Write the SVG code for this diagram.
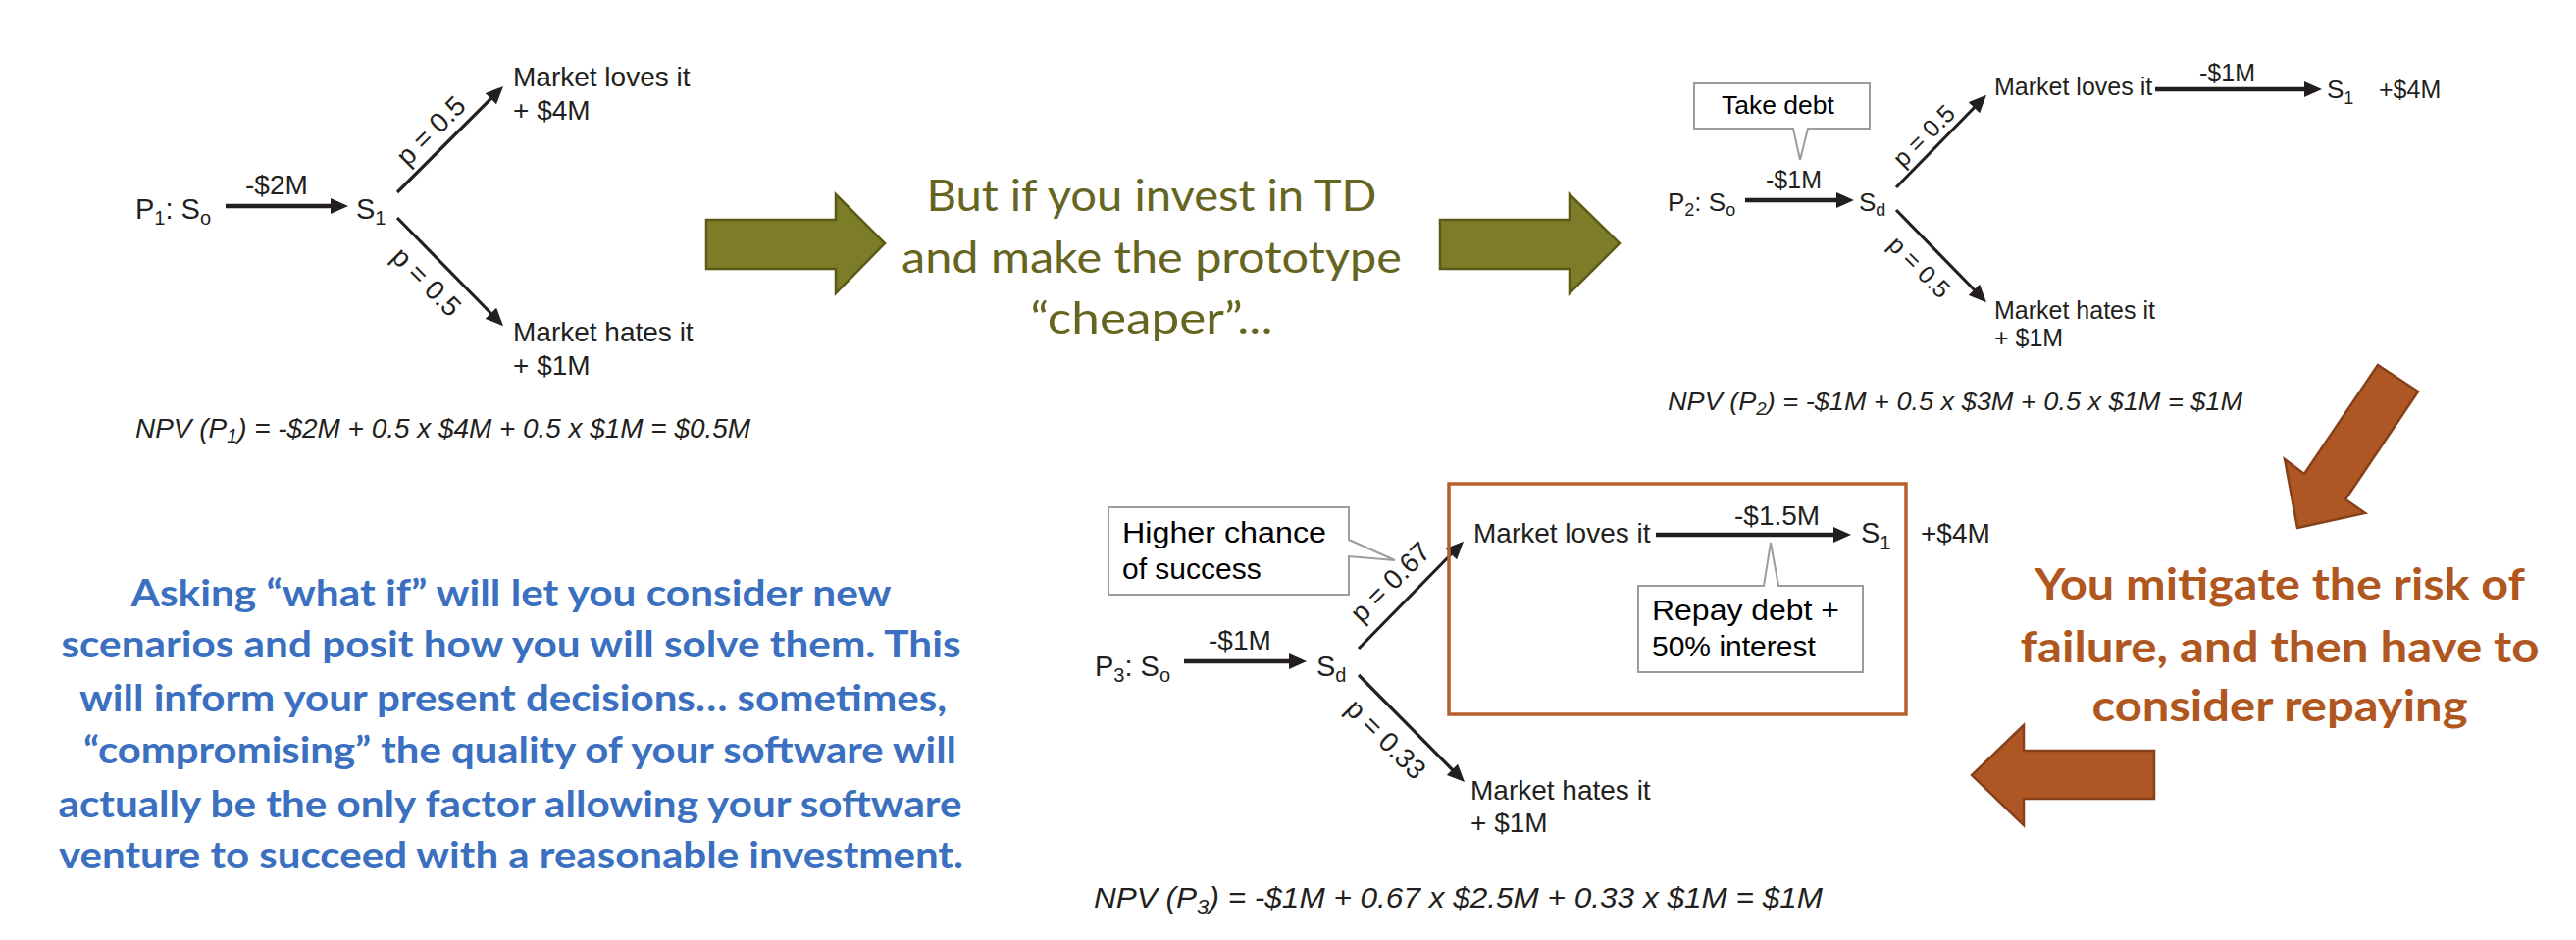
<svg xmlns="http://www.w3.org/2000/svg" width="2626" height="958" viewBox="0 0 2626 958">
<style>
.t{font-family:"Liberation Sans",Arial,Helvetica,sans-serif;fill:#231f20}
.it{font-style:italic}
.co{font-family:"Liberation Sans",Arial,Helvetica,sans-serif;fill:#000}
.ln{stroke:#231f20;fill:none;marker-end:url(#ah)}
.h{stroke-width:4.5}
.d{stroke-width:3.2}
.callout{fill:#fff;stroke:#9c9c9c;stroke-width:2}
.green{font-family:Lato,"Open Sans",sans-serif;fill:#66651f;font-size:45px;text-anchor:middle}
.blue{font-family:Lato,"Open Sans",sans-serif;font-weight:bold;fill:#3a70bf;font-size:38px;text-anchor:middle}
.brown{font-family:Lato,"Open Sans",sans-serif;font-weight:bold;fill:#b0561f;font-size:44px;text-anchor:middle}
.garrow{fill:#7d7c28;stroke:#5b5a17;stroke-width:2.5}
.barrow{fill:#ae5624;stroke:#86401a;stroke-width:2.5}
</style>
<defs>
<marker id="ah" markerUnits="userSpaceOnUse" markerWidth="18" markerHeight="16" refX="8" refY="8" orient="auto">
<path d="M0,0 L18,8 L0,16 Z" fill="#231f20"/>
</marker>
</defs>
<rect width="2626" height="958" fill="#fff"/>

<g id="connectors">
<line class="ln h" x1="230" y1="210" x2="345" y2="210"/>
<line class="ln d" x1="405" y1="196" x2="506" y2="95"/>
<line class="ln d" x1="405" y1="222" x2="506" y2="325"/>
<line class="ln h" x1="1779" y1="204" x2="1880" y2="204"/>
<line class="ln d" x1="1933" y1="191" x2="2018" y2="104"/>
<line class="ln d" x1="1933" y1="214" x2="2018" y2="301"/>
<line class="ln h" x1="2197" y1="91" x2="2357" y2="91"/>
<line class="ln h" x1="1207" y1="674" x2="1322" y2="674"/>
<line class="ln d" x1="1385" y1="661" x2="1485" y2="559"/>
<line class="ln d" x1="1385" y1="688" x2="1486" y2="790"/>
<line class="ln h" x1="1688" y1="545" x2="1877" y2="545"/>
</g>

<g id="diagram1">
<text class="t" x="138" y="223" font-size="29">P<tspan font-size="20" dy="6">1</tspan><tspan dy="-6">: S</tspan><tspan font-size="20" dy="6">o</tspan></text>
<text class="t" x="250" y="198" font-size="28">-$2M</text>
<text class="t" x="363" y="223" font-size="29">S<tspan font-size="20" dy="6">1</tspan></text>
<text class="t" font-size="28" text-anchor="middle" transform="translate(439,133) rotate(-45)" y="10">p = 0.5</text>
<text class="t" font-size="28" text-anchor="middle" transform="translate(435,287) rotate(45)" y="10">p = 0.5</text>
<text class="t" x="523" y="88" font-size="28">Market loves it</text>
<text class="t" x="523" y="122" font-size="28">+ $4M</text>
<text class="t" x="523" y="348" font-size="28">Market hates it</text>
<text class="t" x="523" y="382" font-size="28">+ $1M</text>
<text class="t it" x="138" y="446" font-size="28" textLength="627" lengthAdjust="spacingAndGlyphs">NPV (P<tspan font-size="20" dy="5">1</tspan><tspan dy="-5">) = -$2M + 0.5 x $4M + 0.5 x $1M = $0.5M</tspan></text>
</g>

<g id="arrow-green-1"><polygon class="garrow" points="720,224 852,224 852,198 902,248 852,299 852,274 720,274"/></g>
<g id="text-green">
<text class="green" x="1174" y="215" textLength="459" lengthAdjust="spacingAndGlyphs">But if you invest in TD</text>
<text class="green" x="1174" y="278" textLength="510" lengthAdjust="spacingAndGlyphs">and make the prototype</text>
<text class="green" x="1174" y="340" textLength="247" lengthAdjust="spacingAndGlyphs">“cheaper”...</text>
</g>
<g id="arrow-green-2"><polygon class="garrow" points="1468,224 1600,224 1600,198 1651,248 1600,299 1600,274 1468,274"/></g>

<g id="diagram2">
<path class="callout" d="M1727,85 H1906 V131 H1843 L1835,163 L1828,131 H1727 Z"/>
<text class="co" x="1755" y="116" font-size="26.5">Take debt</text>
<text class="t" x="1700" y="215" font-size="26">P<tspan font-size="18" dy="5">2</tspan><tspan dy="-5">: S</tspan><tspan font-size="18" dy="5">o</tspan></text>
<text class="t" x="1800" y="192" font-size="25">-$1M</text>
<text class="t" x="1895" y="215" font-size="26">S<tspan font-size="18" dy="5">d</tspan></text>
<text class="t" font-size="25" text-anchor="middle" transform="translate(1961,138) rotate(-45)" y="9">p = 0.5</text>
<text class="t" font-size="25" text-anchor="middle" transform="translate(1957,272) rotate(45)" y="9">p = 0.5</text>
<text class="t" x="2033" y="97" font-size="25">Market loves it</text>
<text class="t" x="2242" y="83" font-size="25">-$1M</text>
<text class="t" x="2372" y="100" font-size="26">S<tspan font-size="18" dy="6">1</tspan></text>
<text class="t" x="2425" y="100" font-size="25">+$4M</text>
<text class="t" x="2033" y="325" font-size="25">Market hates it</text>
<text class="t" x="2033" y="353" font-size="25">+ $1M</text>
<text class="t it" x="1700" y="418" font-size="26" textLength="586" lengthAdjust="spacingAndGlyphs">NPV (P<tspan font-size="18" dy="5">2</tspan><tspan dy="-5">) = -$1M + 0.5 x $3M + 0.5 x $1M = $1M</tspan></text>
</g>

<g id="arrow-brown-diag"><polygon class="barrow" points="2424,372 2465,399 2391,509 2411,523 2342,538 2329,468 2349,483"/></g>
<g id="text-brown">
<text class="brown" x="2324" y="611" textLength="500" lengthAdjust="spacingAndGlyphs">You mitigate the risk of</text>
<text class="brown" x="2324" y="675" textLength="529" lengthAdjust="spacingAndGlyphs">failure, and then have to</text>
<text class="brown" x="2324" y="735" textLength="383" lengthAdjust="spacingAndGlyphs">consider repaying</text>
</g>
<g id="arrow-brown-left"><polygon class="barrow" points="2196,765 2063,765 2063,739 2010,790 2063,841 2063,814 2196,814"/></g>

<g id="diagram3">
<rect x="1477" y="493" width="466" height="235" fill="none" stroke="#b65f2c" stroke-width="3.5"/>
<path class="callout" d="M1130,517 H1375 V550 L1422,571 L1375,567 V606 H1130 Z"/>
<text class="co" x="1144" y="553" font-size="30" textLength="208" lengthAdjust="spacingAndGlyphs">Higher chance</text>
<text class="co" x="1144" y="590" font-size="30">of success</text>
<text class="t" x="1116" y="689" font-size="29">P<tspan font-size="20" dy="6">3</tspan><tspan dy="-6">: S</tspan><tspan font-size="20" dy="6">o</tspan></text>
<text class="t" x="1232" y="662" font-size="28">-$1M</text>
<text class="t" x="1342" y="689" font-size="29">S<tspan font-size="20" dy="6">d</tspan></text>
<text class="t" font-size="28" text-anchor="middle" transform="translate(1417,593) rotate(-45)" y="10">p = 0.67</text>
<text class="t" font-size="28" text-anchor="middle" transform="translate(1413,753) rotate(45)" y="10">p = 0.33</text>
<text class="t" x="1502" y="553" font-size="28">Market loves it</text>
<text class="t" x="1768" y="535" font-size="28">-$1.5M</text>
<text class="t" x="1897" y="553" font-size="29">S<tspan font-size="20" dy="7">1</tspan></text>
<text class="t" x="1958" y="553" font-size="28">+$4M</text>
<path class="callout" d="M1670,597 H1798 L1805,553 L1813,597 H1899 V685 H1670 Z"/>
<text class="co" x="1684" y="632" font-size="30" textLength="191" lengthAdjust="spacingAndGlyphs">Repay debt +</text>
<text class="co" x="1684" y="669" font-size="30">50% interest</text>
<text class="t" x="1499" y="815" font-size="28">Market hates it</text>
<text class="t" x="1499" y="848" font-size="28">+ $1M</text>
<text class="t it" x="1115" y="925" font-size="30" textLength="743" lengthAdjust="spacingAndGlyphs">NPV (P<tspan font-size="21" dy="6">3</tspan><tspan dy="-6">) = -$1M + 0.67 x $2.5M + 0.33 x $1M = $1M</tspan></text>
</g>

<g id="text-blue">
<text class="blue" x="521" y="618" textLength="775" lengthAdjust="spacingAndGlyphs">Asking “what if” will let you consider new</text>
<text class="blue" x="521" y="670" textLength="917" lengthAdjust="spacingAndGlyphs">scenarios and posit how you will solve them. This</text>
<text class="blue" x="523" y="725" textLength="884" lengthAdjust="spacingAndGlyphs">will inform your present decisions… sometimes,</text>
<text class="blue" x="530" y="778" textLength="890" lengthAdjust="spacingAndGlyphs">“compromising” the quality of your software will</text>
<text class="blue" x="520" y="833" textLength="921" lengthAdjust="spacingAndGlyphs">actually be the only factor allowing your software</text>
<text class="blue" x="521" y="885" textLength="922" lengthAdjust="spacingAndGlyphs">venture to succeed with a reasonable investment.</text>
</g>
</svg>
